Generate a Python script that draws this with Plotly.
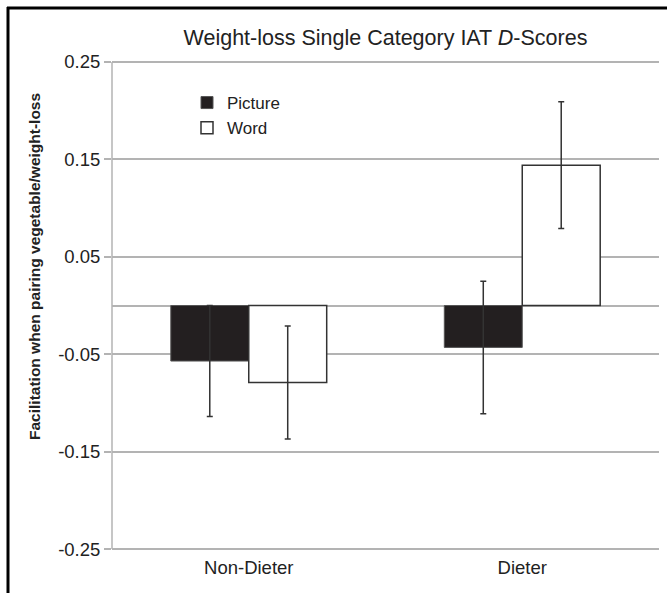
import plotly.graph_objects as go

categories = ["Non-Dieter", "Dieter"]
picture_vals = [-0.057, -0.043]
picture_err = [0.057, 0.068]
word_vals = [-0.079, 0.144]
word_err = [0.058, 0.065]
tick_vals = [-0.25, -0.15, -0.05, 0.05, 0.15, 0.25]
tick_text = ["-0.25", "-0.15", "-0.05", "0.05", "0.15", "0.25"]

W, H = 667, 593
L, R, T, B = 112, 8, 58, 40
pw, ph = W - L - R, H - T - B

def px(x):
    return (x - L) / pw

def py(y):
    return (H - B - y) / ph

fig = go.Figure()
fig.add_trace(go.Bar(
    name="Picture", x=categories, y=picture_vals,
    marker=dict(color="#231f20", line=dict(color="#555555", width=1)),
    error_y=dict(type="data", array=picture_err, color="#333333", thickness=1.5, width=3),
))
fig.add_trace(go.Bar(
    name="Word", x=categories, y=word_vals,
    marker=dict(color="#ffffff", line=dict(color="#333333", width=1.5)),
    error_y=dict(type="data", array=word_err, color="#333333", thickness=1.5, width=3),
))

fig.update_layout(
    width=W, height=H,
    margin=dict(l=L, r=R, t=T, b=B),
    paper_bgcolor="white", plot_bgcolor="white",
    barmode="group", bargap=0.43, bargroupgap=0,
    font=dict(family="Liberation Sans, Arial, sans-serif", color="#222222"),
    showlegend=True,
    legend=dict(x=px(187), y=py(85), xanchor="left", yanchor="top",
                bgcolor="rgba(0,0,0,0)", font=dict(size=17, color="#222222"),
                itemwidth=30, tracegroupgap=0),
    title=dict(text="Weight-loss Single Category IAT <i>D</i>-Scores",
               x=0.5, xref="paper", xanchor="center", y=1 - 37 / H, yanchor="middle",
               font=dict(size=21.5, color="#222222")),
)
fig.update_xaxes(showline=False, showgrid=False, ticks="", tickfont=dict(size=18.5, color="#222222"),
                 ticklabelstandoff=1)
fig.update_yaxes(range=[-0.254, 0.254], tickvals=tick_vals, ticktext=tick_text,
                 showgrid=True, gridcolor="#b3b3b3", gridwidth=1.5,
                 zeroline=True, zerolinecolor="#b3b3b3", zerolinewidth=1.5,
                 showline=False,
                 ticks="outside", ticklen=7, tickcolor="#b3b3b3", tickwidth=1.5,
                 tickfont=dict(size=18.5, color="#222222"))

fig.add_annotation(text="<b>Facilitation when pairing vegetable/weight-loss</b>",
                   xref="paper", yref="paper", x=px(34), y=py(267),
                   xanchor="center", yanchor="middle", textangle=-90, showarrow=False,
                   font=dict(size=15.5, color="#222222"))

# y-axis line spanning exactly the tick range
fig.add_shape(type="line", xref="paper", yref="y", x0=0, x1=0,
              y0=tick_vals[0], y1=tick_vals[-1],
              line=dict(color="#b3b3b3", width=1.5))

# outer frame (left and top edges)
fig.add_shape(type="line", xref="paper", yref="paper", x0=px(8), x1=px(8), y0=py(7), y1=py(600),
              line=dict(color="black", width=3))
fig.add_shape(type="line", xref="paper", yref="paper", x0=px(7), x1=px(670), y0=py(8), y1=py(8),
              line=dict(color="black", width=3))

fig.write_html("out.html", config={"displayModeBar": False},
               post_script="document.body.style.margin='0';")
